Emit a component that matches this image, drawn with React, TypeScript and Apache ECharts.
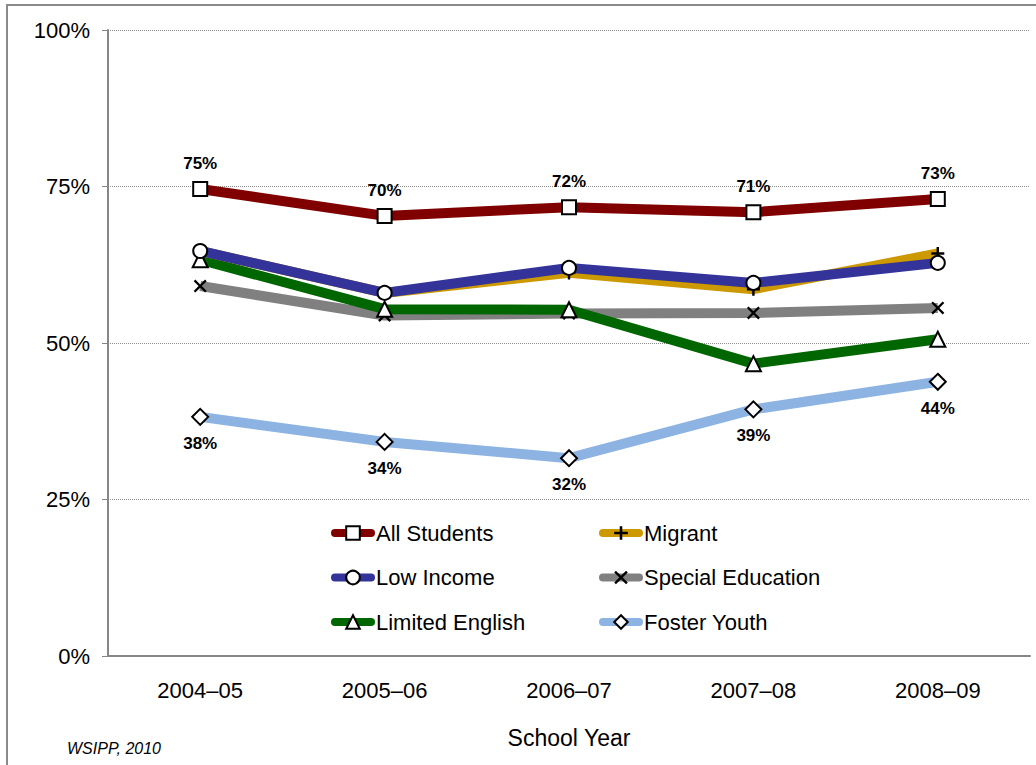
import React, { useEffect, useRef } from "react";
import * as echarts from "echarts";

const years = ["2004–05", "2005–06", "2006–07", "2007–08", "2008–09"];
const allStudents = [74.6, 70.3, 71.7, 70.9, 73.0];
const migrant = [64.7, 58.0, 61.2, 58.6, 64.3];
const lowIncome = [64.7, 58.0, 62.0, 59.6, 62.8];
const specialEd = [59.1, 54.4, 54.7, 54.8, 55.6];
const limitedEnglish = [63.3, 55.4, 55.3, 46.7, 50.6];
const fosterYouth = [38.2, 34.2, 31.6, 39.4, 43.8];
const yTicks = [0, 25, 50, 75, 100];

const FONT = "'Liberation Sans', Arial, Helvetica, sans-serif";
const PLUS = "path://M0,6.5H16V9.5H0Z M6.5,0H9.5V16H6.5Z";
const CROSS = "path://M2,0 L8,6 L14,0 L16,2 L10,8 L16,14 L14,16 L8,10 L2,16 L0,14 L6,8 L0,2 Z";

export default function App() {
  const ref = useRef<HTMLDivElement>(null);
  useEffect(() => {
    if (!ref.current) return;
    const chart = echarts.init(ref.current, null, { renderer: "svg" });
    const hollow = { color: "#ffffff", borderColor: "#000000", borderWidth: 2 };
    const pctLabel = (pos: string) => ({
      show: true,
      position: pos,
      distance: 9,
      fontFamily: FONT,
      fontSize: 17,
      fontWeight: "bold",
      color: "#000",
      formatter: (p: any) => Math.round(p.value) + "%",
    });
    const mk = (name: string, data: number[], color: string, symbol: string, size: number, itemStyle: any, z: number, label?: any) => ({
      name,
      type: "line",
      data,
      z,
      symbol,
      symbolSize: size,
      showAllSymbol: true,
      lineStyle: { color, width: 10 },
      itemStyle,
      label: label || { show: false },
      emphasis: { disabled: true },
    });
    const legendCommon = {
      orient: "vertical",
      top: 517,
      itemWidth: 36,
      itemHeight: 17,
      itemGap: 22.5,
      textStyle: { fontFamily: FONT, fontSize: 22, color: "#000" },
      lineStyle: { width: 8, cap: "round" },
      selectedMode: false,
    };
    chart.setOption({
      animation: false,
      backgroundColor: "#ffffff",
      textStyle: { fontFamily: FONT },
      grid: { left: 108, right: 6, top: 30, bottom: 109, containLabel: false },
      xAxis: {
        type: "category",
        data: years,
        boundaryGap: true,
        axisLine: { lineStyle: { color: "#868686", width: 2 } },
        axisTick: { show: false },
        axisLabel: { fontFamily: FONT, fontSize: 22, color: "#000", margin: 23 },
        name: "School Year",
        nameLocation: "middle",
        nameGap: 70,
        nameTextStyle: { fontFamily: FONT, fontSize: 23, color: "#000" },
        splitLine: { show: false },
      },
      yAxis: {
        type: "value",
        min: yTicks[0],
        max: yTicks[yTicks.length - 1],
        interval: 25,
        axisLine: { show: true, lineStyle: { color: "#868686", width: 2 } },
        axisTick: { show: true, length: 6, lineStyle: { color: "#868686", width: 1 } },
        axisLabel: { fontFamily: FONT, fontSize: 22, color: "#000", margin: 18, formatter: "{value}%" },
        splitLine: { show: true, lineStyle: { color: "#8c8c8c", type: [1, 1], width: 1 } },
      },
      legend: [
        { ...legendCommon, left: 326, data: ["All Students", "Low Income", "Limited English"] },
        { ...legendCommon, left: 594, data: ["Migrant", "Special Education", "Foster Youth"] },
      ],
      graphic: [
        {
          type: "rect",
          shape: { x: 7, y: 5, width: 1200, height: 1000 },
          style: { fill: "none", stroke: "#8a8a8a", lineWidth: 2 },
          silent: true,
        },
        {
          type: "text",
          x: 67,
          y: 748,
          style: { text: "WSIPP, 2010", font: "italic 16px " + FONT, fill: "#000", textVerticalAlign: "middle" },
          silent: true,
        },
      ],
      series: [
        mk("Special Education", specialEd, "#808080", CROSS, 13, { color: "#000", borderWidth: 0 }, 2),
        mk("Limited English", limitedEnglish, "#006600", "triangle", 15, hollow, 3),
        mk("Migrant", migrant, "#cc9900", PLUS, 13, { color: "#000", borderWidth: 0 }, 4),
        mk("Low Income", lowIncome, "#333399", "circle", 14, hollow, 5),
        mk("All Students", allStudents, "#800000", "rect", 14, hollow, 6, pctLabel("top")),
        mk("Foster Youth", fosterYouth, "#8db3e2", "diamond", 16, hollow, 7, pctLabel("bottom")),
      ],
    });
    return () => chart.dispose();
  }, []);
  return <div ref={ref} style={{ position: "absolute", left: 0, top: 0, width: 1036, height: 765 }} />;
}
